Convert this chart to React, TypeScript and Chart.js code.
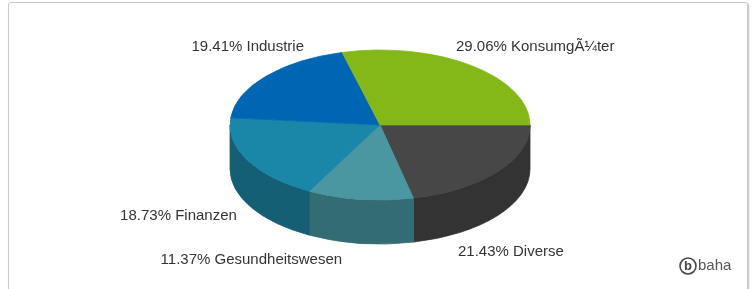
import React, { useEffect, useRef } from 'react';
import { Chart, registerables } from 'chart.js';

Chart.register(...registerables);

// Data (clockwise from 3 o'clock)
const categories = ['Diverse', 'Gesundheitswesen', 'Finanzen', 'Industrie', 'Konsumg\u00C3\u00BCter'];
const shares = [21.43, 11.37, 18.73, 19.41, 29.06];
const topColors = ['#474747', '#4a97a2', '#1b87a8', '#0066b3', '#84b819'];
const sideColors = ['#333333', '#336d73', '#155f74', '#004c86', '#63891a'];
const labelTexts = shares.map((v, i) => `${v.toFixed(2)}% ${categories[i]}`);

const TILT = 0.5;
const DEPTH = 44;
const LABEL_SHIFT = -22;
const LABEL_SPREAD = 238;
const LABEL_TOP = 78;
const LABEL_BOTTOM = 135;
const LABEL_RX = 165;
const LABEL_RY = 93.5;
const LABEL_BACK_REF = 5;

const pie3d = {
  id: 'pie3d',
  beforeDatasetsDraw(chart: any) {
    const ctx = chart.ctx;
    const arcs = chart.getDatasetMeta(0).data;
    if (!arcs.length) return;
    const { x: cx, y: cy, outerRadius: R } = arcs[0].getProps(['x', 'y', 'outerRadius'], true);
    const rx = R;
    const ry = R * TILT;
    arcs.forEach((arc: any, i: number) => {
      const { startAngle, endAngle } = arc.getProps(['startAngle', 'endAngle'], true);
      const a = Math.max(startAngle, 0);
      const b = Math.min(endAngle, Math.PI);
      if (b <= a) return;
      ctx.beginPath();
      ctx.ellipse(cx, cy, rx, ry, 0, a, b, false);
      ctx.lineTo(cx + rx * Math.cos(b), cy + DEPTH + ry * Math.sin(b));
      ctx.ellipse(cx, cy + DEPTH, rx, ry, 0, b, a, true);
      ctx.closePath();
      ctx.fillStyle = sideColors[i];
      ctx.fill();
      ctx.strokeStyle = sideColors[i];
      ctx.lineWidth = 0.8;
      ctx.stroke();
    });
    ctx.save();
    ctx.translate(cx, cy);
    ctx.scale(1, TILT);
    ctx.translate(-cx, -cy);
  },
  afterDatasetsDraw(chart: any) {
    const ctx = chart.ctx;
    const arcs = chart.getDatasetMeta(0).data;
    if (!arcs.length) return;
    ctx.restore();
    const { x: cx, y: cy } = arcs[0].getProps(['x', 'y'], true);
    ctx.save();
    ctx.font = '15px "Liberation Sans", Arial, sans-serif';
    ctx.fillStyle = '#333333';
    ctx.textBaseline = 'middle';
    arcs.forEach((arc: any, i: number) => {
      const { startAngle, endAngle } = arc.getProps(['startAngle', 'endAngle'], true);
      const mid = (startAngle + endAngle) / 2;
      const s = Math.sin(mid);
      const c = Math.cos(mid);
      const y = Math.min(Math.max(cy + LABEL_SHIFT + s * LABEL_SPREAD, cy - LABEL_TOP), cy + LABEL_BOTTOM);
      const dy = y - cy - (s > 0 ? DEPTH : LABEL_BACK_REF);
      const r = Math.min(1, Math.abs(dy) / LABEL_RY);
      const xoff = LABEL_RX * Math.sqrt(1 - r * r);
      const left = c < 0;
      ctx.textAlign = left ? 'right' : 'left';
      ctx.fillText(labelTexts[i], cx + (left ? -xoff : xoff), y);
    });
    ctx.restore();
  },
  afterDraw(chart: any) {
    const ctx = chart.ctx;
    ctx.save();
    ctx.strokeStyle = '#444444';
    ctx.fillStyle = '#444444';
    ctx.lineWidth = 1.6;
    ctx.beginPath();
    ctx.arc(688, 266, 8, 0, Math.PI * 2);
    ctx.stroke();
    ctx.font = 'bold 13px "Liberation Sans", Arial, sans-serif';
    ctx.textAlign = 'center';
    ctx.textBaseline = 'middle';
    ctx.fillText('b', 688, 266.5);
    ctx.font = '15px "Liberation Sans", Arial, sans-serif';
    ctx.textAlign = 'left';
    ctx.fillStyle = '#555555';
    ctx.fillText('baha', 698, 266);
    ctx.restore();
  },
};

export default function App() {
  const canvasRef = useRef<HTMLCanvasElement | null>(null);

  useEffect(() => {
    document.body.style.margin = '0';
    document.body.style.background = '#ffffff';
    const canvas = canvasRef.current;
    if (!canvas) return;
    const chart = new Chart(canvas, {
      type: 'pie',
      data: {
        labels: categories,
        datasets: [
          {
            data: shares,
            backgroundColor: topColors,
            borderColor: topColors,
            borderWidth: 1,
            clip: false as any,
          },
        ],
      },
      options: {
        responsive: false,
        animation: false,
        events: [],
        rotation: 90,
        radius: 150,
        layout: { padding: { left: 6, right: 0, top: 0, bottom: 39 } },
        plugins: {
          legend: { display: false },
          tooltip: { enabled: false },
          title: { display: false },
        },
      } as any,
      plugins: [pie3d],
    });
    return () => chart.destroy();
  }, []);

  return (
    <div style={{ position: 'relative', width: 754, height: 289, overflow: 'hidden', background: '#fff' }}>
      <div
        style={{
          position: 'absolute',
          left: 8,
          top: 2,
          width: 738,
          height: 320,
          border: '1px solid #c8c8c8',
          borderRadius: 3,
          boxShadow: '1px 1px 2px rgba(0,0,0,0.25)',
        }}
      />
      <canvas
        ref={canvasRef}
        width={754}
        height={289}
        style={{ position: 'absolute', left: 0, top: 0, display: 'block' }}
      />
    </div>
  );
}
